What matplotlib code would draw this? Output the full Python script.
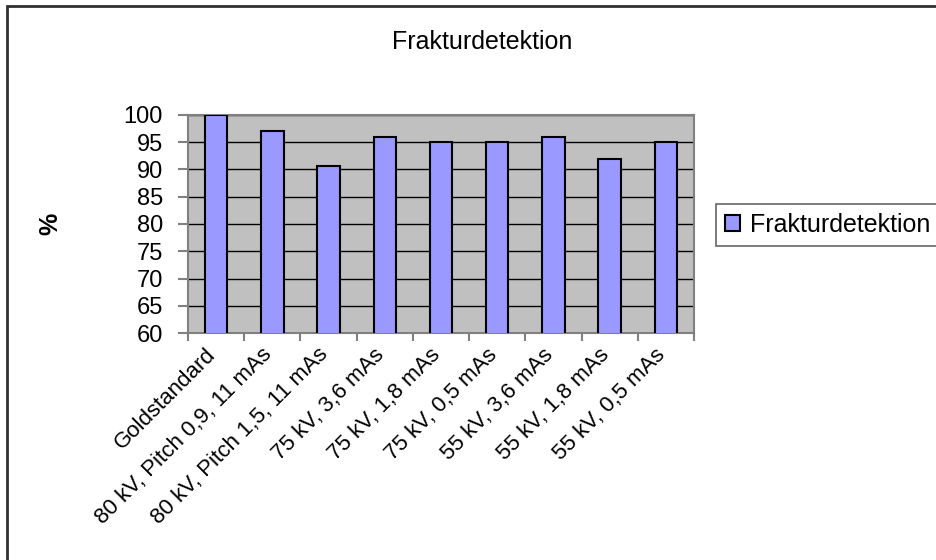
import matplotlib
matplotlib.use("Agg")
import matplotlib.pyplot as plt
import matplotlib.transforms as mtransforms
import numpy as np
from matplotlib.patches import Rectangle

# data
categories = [
    "Goldstandard",
    "80 kV, Pitch 0,9, 11 mAs",
    "80 kV, Pitch 1,5, 11 mAs",
    "75 kV, 3,6 mAs",
    "75 kV, 1,8 mAs",
    "75 kV, 0,5 mAs",
    "55 kV, 3,6 mAs",
    "55 kV, 1,8 mAs",
    "55 kV, 0,5 mAs",
]
values = [100, 97, 90.7, 96, 95, 95, 96, 91.9, 95]
series_name = "Frakturdetektion"
y_ticks = list(range(60, 101, 5))

plt.rcParams["font.family"] = ["Liberation Sans", "DejaVu Sans"]

fig = plt.figure(figsize=(9.37, 5.6), dpi=100)
ax = fig.add_axes([188 / 937, 1 - 333 / 560, 506 / 937, 218 / 560])

x = np.arange(len(categories))
ax.bar(x, values, width=0.4, color="#9999FF", edgecolor="black",
       linewidth=1.5, label=series_name, zorder=3)

ax.set_facecolor("#C0C0C0")
ax.set_xlim(-0.5, len(categories) - 0.5)
ax.set_ylim(60, 100)
ax.set_yticks(y_ticks)
ax.yaxis.grid(True, color="black", linewidth=1, zorder=1)
ax.set_axisbelow(True)

ax.set_xticks(x)
ax.set_xticklabels(categories, rotation=45, ha="right", rotation_mode="anchor",
                   fontsize=16)
ax.set_xticks(np.arange(-0.5, len(categories)), minor=True)
ax.tick_params(axis="x", which="major", length=0, pad=8)
ax.tick_params(axis="x", which="minor", length=6, color="#808080", width=1.5)
ax.tick_params(axis="y", length=7, color="#808080", width=1.5, labelsize=17,
               pad=11)

# nudge rotated category labels a little to the left, like the original
shift = mtransforms.ScaledTranslation(-11 / 100, 0, fig.dpi_scale_trans)
for lbl in ax.get_xticklabels():
    lbl.set_transform(lbl.get_transform() + shift)

for s in ax.spines.values():
    s.set_color("#808080")
    s.set_linewidth(1.5)

fig.text(50 / 937, 1 - 224 / 560, "%", fontsize=18, fontweight="bold",
         rotation=90, ha="center", va="center")

fig.text(482 / 937, 1 - 42 / 560, "Frakturdetektion", fontsize=18,
         ha="center", va="center")

leg = fig.legend(loc="center left", bbox_to_anchor=(716 / 937, 1 - 225 / 560),
                 fontsize=18, frameon=True, fancybox=False, handlelength=0.6,
                 handleheight=0.6, handletextpad=0.4, borderpad=0.35,
                 borderaxespad=0)
leg.get_frame().set_edgecolor("#404040")
leg.get_frame().set_linewidth(1.2)

# outer chart frame (cut off on the right and bottom)
fig.patches.append(Rectangle((7 / 937, -0.1), 1.2, 1.1 - 6 / 560,
                             transform=fig.transFigure, fill=False,
                             edgecolor="#303030", linewidth=2))

fig.savefig("out.png", dpi=100)
